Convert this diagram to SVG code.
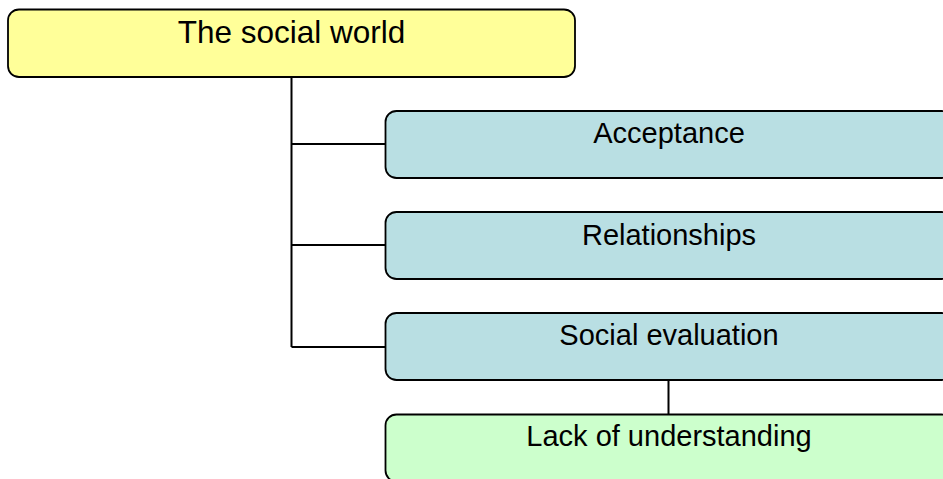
<svg xmlns="http://www.w3.org/2000/svg" width="943" height="479" viewBox="0 0 943 479">
<style>
.box{stroke:#000;stroke-width:1.8}
.root{fill:#ffff99}
.blue{fill:#b9dfe3}
.green{fill:#ccffcc}
.lbl{font-family:"Liberation Sans",Arial,sans-serif;fill:#000;text-anchor:middle}
.conn{fill:none;stroke:#000;stroke-width:2}
</style>
<rect width="943" height="479" fill="#fff"/>
<g id="connectors">
<path class="conn" d="M291.5 77 V347 M291.5 144 H386 M291.5 245 H386 M291.5 347 H386 M668.5 380 V415"/>
</g>
<g id="node-root">
<rect class="box root" x="8" y="9.5" width="567" height="67.5" rx="11"/>
<text class="lbl" x="291.5" y="43" font-size="31.5">The social world</text>
</g>
<g id="node-acceptance">
<rect class="box blue" x="385.5" y="111" width="567" height="67" rx="11"/>
<text class="lbl" x="669" y="143.3" font-size="29">Acceptance</text>
</g>
<g id="node-relationships">
<rect class="box blue" x="385.5" y="212" width="567" height="67" rx="11"/>
<text class="lbl" x="669" y="244.5" font-size="29">Relationships</text>
</g>
<g id="node-social-evaluation">
<rect class="box blue" x="385.5" y="313" width="567" height="67" rx="11"/>
<text class="lbl" x="669" y="345" font-size="29">Social evaluation</text>
</g>
<g id="node-lack-of-understanding">
<rect class="box green" x="385.5" y="414.5" width="567" height="67" rx="11"/>
<text class="lbl" x="669" y="446" font-size="29">Lack of understanding</text>
</g>
</svg>
